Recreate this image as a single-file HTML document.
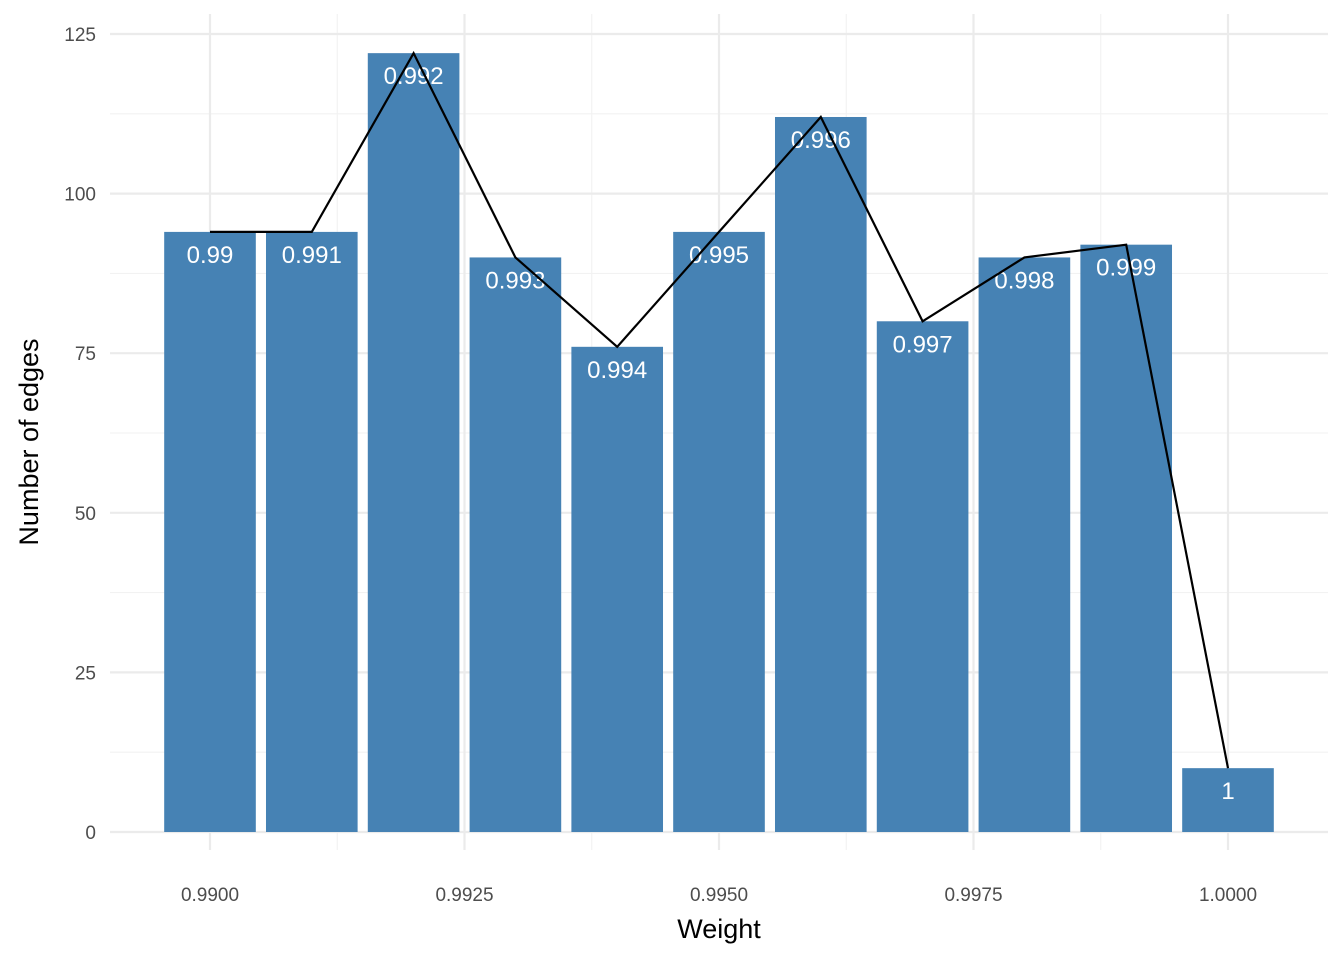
<!DOCTYPE html>
<html><head><meta charset="utf-8"><style>
body{margin:0;background:#fff;}
svg text{font-family:"Liberation Sans","DejaVu Sans",sans-serif;}
</style></head><body>
<svg id="chart" width="1344" height="960" xmlns="http://www.w3.org/2000/svg"></svg>
<script>
const categories = [0.990,0.991,0.992,0.993,0.994,0.995,0.996,0.997,0.998,0.999,1.000];
const counts = [94,94,122,90,76,94,112,80,90,92,10];
const barLabels = ["0.99","0.991","0.992","0.993","0.994","0.995","0.996","0.997","0.998","0.999","1"];
const yTicks = [0,25,50,75,100,125];
const xTicks = [0.99,0.9925,0.995,0.9975,1.0];
const xTickLabels = ["0.9900","0.9925","0.9950","0.9975","1.0000"];

const svg = document.getElementById('chart');
const NS = 'http://www.w3.org/2000/svg';
const px0 = 110, px1 = 1328, py0 = 14, py1 = 850;
const xs = v => 210 + (v - 0.99) / 0.01 * 1018;
const ys = v => 832 - v * 798 / 125;
function mk(tag, attrs, parent){ const e=document.createElementNS(NS,tag); for(const k in attrs) e.setAttribute(k,attrs[k]); (parent||svg).appendChild(e); return e; }

const grid = mk('g',{});


for(let i=0;i<yTicks.length-1;i++){ const m=(yTicks[i]+yTicks[i+1])/2; mk('line',{x1:px0,x2:px1,y1:ys(m),y2:ys(m),stroke:'#f2f2f2','stroke-width':1.1},grid); }
for(let i=0;i<xTicks.length-1;i++){ const m=(xTicks[i]+xTicks[i+1])/2; mk('line',{x1:xs(m),x2:xs(m),y1:py0,y2:py1,stroke:'#f2f2f2','stroke-width':1.1},grid); }
yTicks.forEach(t=>mk('line',{x1:px0,x2:px1,y1:ys(t),y2:ys(t),stroke:'#ebebeb','stroke-width':2.2},grid));
xTicks.forEach(t=>mk('line',{x1:xs(t),x2:xs(t),y1:py0,y2:py1,stroke:'#ebebeb','stroke-width':2.2},grid));

const bw = 0.0009/0.01*1018;
categories.forEach((c,i)=>{
  const r = mk('rect',{x:xs(c)-bw/2,y:ys(counts[i]),width:bw,height:ys(0)-ys(counts[i]),fill:'#4682b4'});
  
  
});
categories.forEach((c,i)=>{
  const t = mk('text',{x:xs(c),y:ys(counts[i])+31,'text-anchor':'middle','font-size':24,fill:'#fff'});
  t.textContent = barLabels[i];
  
  
});
const pts = categories.map((c,i)=>xs(c)+','+ys(counts[i])).join(' ');
const line = mk('polyline',{points:pts,fill:'none',stroke:'#000','stroke-width':2.2});



yTicks.forEach(t=>{
  const e = mk('text',{x:96,y:ys(t)+7,'text-anchor':'end','font-size':19,fill:'#4d4d4d'});
  e.textContent = t;
  
  
});
xTicks.forEach((t,i)=>{
  const e = mk('text',{x:xs(t),y:901,'text-anchor':'middle','font-size':19,fill:'#4d4d4d'});
  e.textContent = xTickLabels[i];
  
  
});
const xt = mk('text',{x:719,y:938,'text-anchor':'middle','font-size':27,fill:'#000'});
xt.textContent='Weight';


const yt = mk('text',{x:0,y:0,'text-anchor':'middle','font-size':27,fill:'#000',transform:'translate(38,442) rotate(-90)'});
yt.textContent='Number of edges';


</script>
</body></html>
